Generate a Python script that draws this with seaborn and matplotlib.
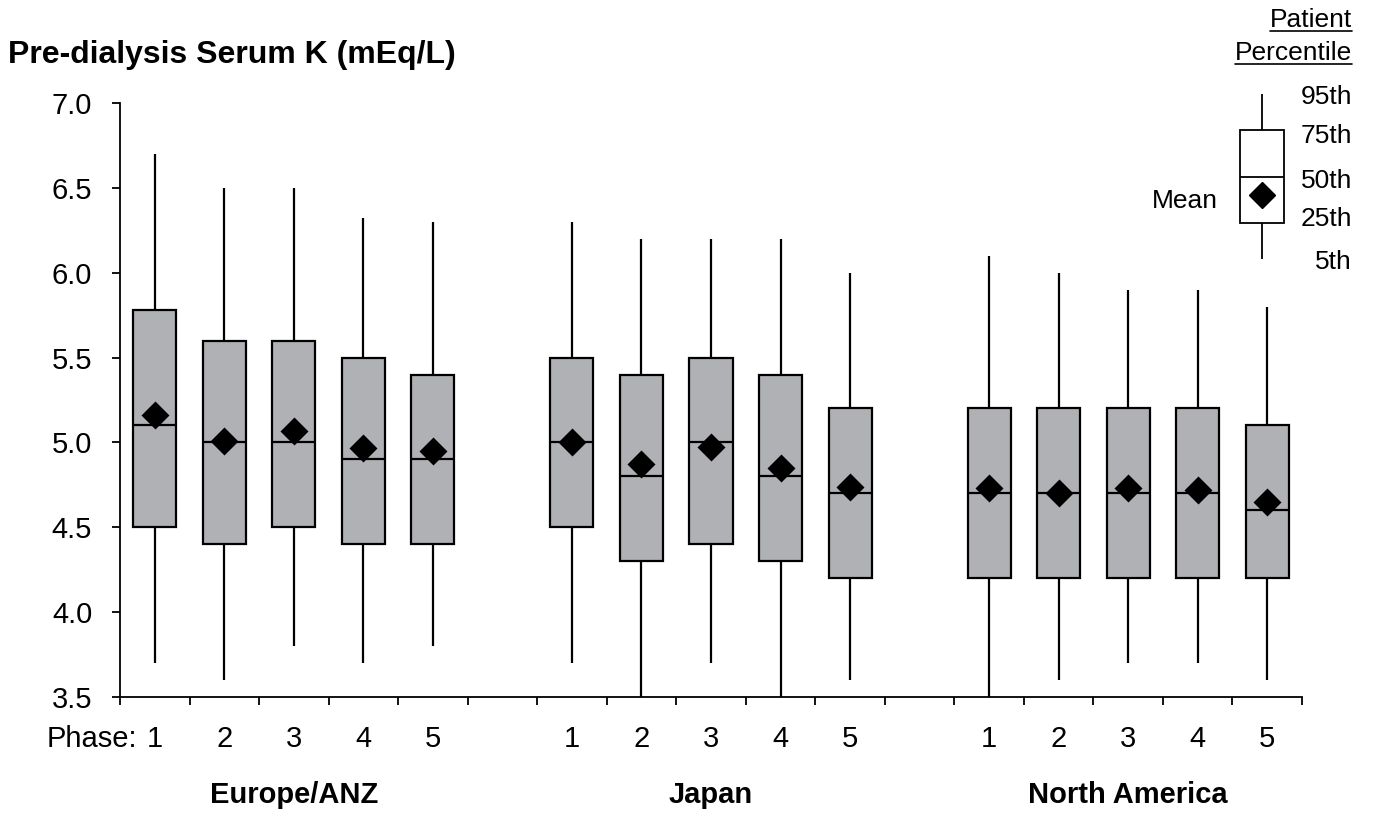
import numpy as np
import pandas as pd
import matplotlib
matplotlib.use("Agg")
import matplotlib.pyplot as plt
import matplotlib.transforms as mtransforms
from matplotlib.lines import Line2D
import seaborn as sns

# ---------------- data ----------------
regions = ["Europe/ANZ", "Japan", "North America"]
phases = ["1", "2", "3", "4", "5"]

eu_p05 = [3.7, 3.6, 3.8, 3.7, 3.8]
eu_p25 = [4.5, 4.4, 4.5, 4.4, 4.4]
eu_p50 = [5.1, 5.0, 5.0, 4.9, 4.9]
eu_p75 = [5.78, 5.6, 5.6, 5.5, 5.4]
eu_p95 = [6.7, 6.5, 6.5, 6.32, 6.3]
eu_mean = [5.16, 5.01, 5.07, 4.97, 4.95]

jp_p05 = [3.7, 3.5, 3.7, 3.5, 3.6]
jp_p25 = [4.5, 4.3, 4.4, 4.3, 4.2]
jp_p50 = [5.0, 4.8, 5.0, 4.8, 4.7]
jp_p75 = [5.5, 5.4, 5.5, 5.4, 5.2]
jp_p95 = [6.3, 6.2, 6.2, 6.2, 6.0]
jp_mean = [5.0, 4.87, 4.975, 4.85, 4.74]

na_p05 = [3.5, 3.6, 3.7, 3.7, 3.6]
na_p25 = [4.2, 4.2, 4.2, 4.2, 4.2]
na_p50 = [4.7, 4.7, 4.7, 4.7, 4.6]
na_p75 = [5.2, 5.2, 5.2, 5.2, 5.1]
na_p95 = [6.1, 6.0, 5.9, 5.9, 5.8]
na_mean = [4.73, 4.70, 4.73, 4.72, 4.65]

y_ticks = [3.5, 4.0, 4.5, 5.0, 5.5, 6.0, 6.5, 7.0]
legend_levels = ["95th", "75th", "50th", "25th", "5th"]

# ---------------- build tables ----------------
stats = {
    "Europe/ANZ": (eu_p05, eu_p25, eu_p50, eu_p75, eu_p95, eu_mean),
    "Japan": (jp_p05, jp_p25, jp_p50, jp_p75, jp_p95, jp_mean),
    "North America": (na_p05, na_p25, na_p50, na_p75, na_p95, na_mean),
}
rows, mrows, order = [], [], []
for gi, reg in enumerate(regions):
    p05, p25, p50, p75, p95, mean = stats[reg]
    for i, ph in enumerate(phases):
        key = f"{reg}|{ph}"
        order.append(key)
        for v in (p05[i], p25[i], p50[i], p75[i], p95[i]):
            rows.append({"key": key, "value": v})
        mrows.append({"key": key, "value": mean[i]})
    if gi < len(regions) - 1:
        order.append(f"gap{gi}")
df = pd.DataFrame(rows)
dm = pd.DataFrame(mrows)

# ---------------- style ----------------
sns.set_style("white")
plt.rcParams["font.family"] = ["Liberation Sans", "DejaVu Sans"]
plt.rcParams["text.color"] = "black"
plt.rcParams["xtick.color"] = "black"
plt.rcParams["ytick.color"] = "black"
plt.rcParams["axes.labelcolor"] = "black"

W, H = 1373, 815
fig = plt.figure(figsize=(W / 100, H / 100), dpi=100)
ax = fig.add_axes([120 / W, 1 - 697 / H, (1302 - 120) / W, (697 - 103) / H])

box_gray = "#b0b1b5"
sns.boxplot(data=df, x="key", y="value", order=order, ax=ax,
            whis=(0, 100), width=0.62, color=box_gray, saturation=1,
            linecolor="black", linewidth=1.6, showcaps=False, fliersize=0)
sns.pointplot(data=dm, x="key", y="value", order=order, ax=ax,
              linestyle="none", markers="D", color="black",
              markersize=12, errorbar=None)

ax.set_xlim(-0.5, len(order) - 0.5)
ax.set_ylim(3.5, 7.0)
ax.set_yticks(y_ticks)
ax.set_yticklabels([f"{t:.1f}" for t in y_ticks])
ax.set_xlabel("")
ax.set_ylabel("")

# x ticks: labels at box centres, tick marks at slot borders
centers = [i for i, k in enumerate(order) if not k.startswith("gap")]
ax.set_xticks(centers)
ax.set_xticklabels([order[i].split("|")[1] for i in centers])
ax.set_xticks(np.arange(-0.5, len(order) + 0.5, 1.0), minor=True)
XPAD = 20
ax.tick_params(axis="x", which="both", bottom=True, top=False)
ax.tick_params(axis="y", which="both", left=True, right=False)
ax.tick_params(axis="x", which="major", length=0, pad=XPAD, labelsize=21)
ax.tick_params(axis="x", which="minor", length=6, width=1.3, color="black",
               direction="out")
ax.tick_params(axis="y", which="major", length=6, width=1.3, color="black",
               direction="out", labelsize=21, pad=14)
for s in ["top", "right"]:
    ax.spines[s].set_visible(False)
for s in ["left", "bottom"]:
    ax.spines[s].set_color("black")
    ax.spines[s].set_linewidth(1.3)

trans = mtransforms.blended_transform_factory(ax.transData, ax.transAxes)
trans_lab = mtransforms.offset_copy(trans, fig=fig, y=-XPAD, units="points")
ax.text(-0.26, 0, "Phase:", transform=trans_lab, ha="right", va="top",
        fontsize=21)
for gi, reg in enumerate(regions):
    idx = [i for i, k in enumerate(order) if k.startswith(reg + "|")]
    ax.text(np.mean(idx), -0.165, reg, transform=trans, ha="center",
            va="center", fontsize=21, fontweight="bold")

fig.text(8 / W, 1 - 55 / H, "Pre-dialysis Serum K (mEq/L)", ha="left",
         va="center", fontsize=23, fontweight="bold")

# ---------------- legend key (top right) ----------------
lax = fig.add_axes([1230 / W, 1 - 270 / H, 64 / W, 180 / H])
key_px = [259, 223, 177, 130, 94]  # layout of the key box (pixel rows)
sns.boxplot(y=key_px, ax=lax, whis=(0, 100), width=0.8, color="white",
            saturation=1, linecolor="black", linewidth=1.3, showcaps=False,
            fliersize=0)
lax.plot([0], [195], marker="D", color="black", markersize=13.5,
         linestyle="none")
lax.set_xlim(-0.595, 0.595)
lax.set_ylim(270, 90)
lax.axis("off")

lab_y = [97, 136, 181, 219, 262]
for lab, yy in zip(legend_levels, lab_y):
    fig.text(1352 / W, 1 - yy / H, lab, ha="right", va="center", fontsize=19)
fig.text(1218 / W, 1 - 201 / H, "Mean", ha="right", va="center", fontsize=19)
hdrs = []
for txt, yy in [("Patient", 20), ("Percentile", 53)]:
    hdrs.append(fig.text(1352 / W, 1 - yy / H, txt, ha="right", va="center",
                         fontsize=19))

fig.canvas.draw()
r = fig.canvas.get_renderer()
for t in hdrs:
    bb = t.get_window_extent(r)
    yline = bb.y0 + 1
    fig.add_artist(Line2D([bb.x0 / W, bb.x1 / W], [yline / H, yline / H],
                          transform=fig.transFigure, color="black", lw=1.2))

fig.savefig("out.png", dpi=100)
